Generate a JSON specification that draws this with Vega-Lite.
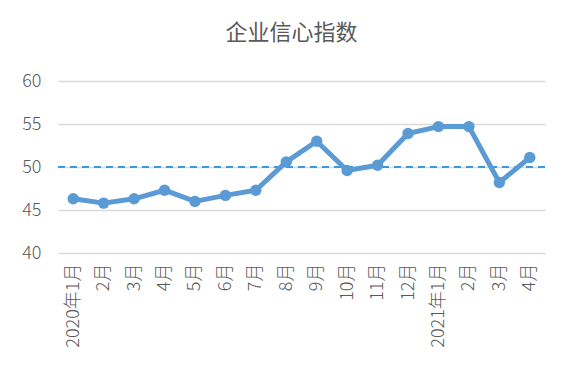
{
  "$schema": "https://vega.github.io/schema/vega-lite/v6.json",
  "width": 487,
  "height": 172,
  "padding": {"left": 21, "top": 22, "right": 31, "bottom": 10},
  "background": "white",
  "title": {
    "text": "企业信心指数",
    "font": "Noto Sans CJK SC",
    "fontSize": 22,
    "fontWeight": "normal",
    "color": "#595959",
    "anchor": "middle",
    "dx": -10,
    "offset": 27
  },
  "data": {
    "values": [
      {"month": "2020年1月", "value": 46.3},
      {"month": "2020年2月", "value": 45.8},
      {"month": "2020年3月", "value": 46.3},
      {"month": "2020年4月", "value": 47.3},
      {"month": "2020年5月", "value": 46.0},
      {"month": "2020年6月", "value": 46.7},
      {"month": "2020年7月", "value": 47.3},
      {"month": "2020年8月", "value": 50.6},
      {"month": "2020年9月", "value": 53.0},
      {"month": "2020年10月", "value": 49.6},
      {"month": "2020年11月", "value": 50.2},
      {"month": "2020年12月", "value": 53.9},
      {"month": "2021年1月", "value": 54.7},
      {"month": "2021年2月", "value": 54.7},
      {"month": "2021年3月", "value": 48.2},
      {"month": "2021年4月", "value": 51.1}
    ]
  },
  "encoding": {
    "x": {
      "field": "month",
      "type": "ordinal",
      "sort": null,
      "axis": {
        "title": null,
        "labelAngle": -90,
        "labelPadding": 10,
        "ticks": false,
        "domain": false,
        "labelFont": "Noto Sans CJK SC",
        "labelFontSize": 18,
        "labelFontWeight": 300,
        "labelColor": "#595959",
        "labelExpr": "indexof(['2020年1月','2021年1月'], datum.value) >= 0 ? datum.value : substring(datum.value, 5)"
      }
    },
    "y": {
      "field": "value",
      "type": "quantitative",
      "scale": {"domain": [40, 60], "nice": false, "zero": false},
      "axis": {
        "title": null,
        "values": [40, 45, 50, 55, 60],
        "ticks": false,
        "domain": false,
        "labelPadding": 17,
        "labelFont": "Noto Sans CJK SC",
        "labelFontSize": 18,
        "labelFontWeight": 300,
        "labelColor": "#595959",
        "gridColor": "#d9d9d9",
        "gridWidth": 1.3
      }
    }
  },
  "layer": [
    {
      "mark": {"type": "rule", "color": "#3a9ad9", "strokeWidth": 2, "strokeDash": [7, 5]},
      "encoding": {"y": {"datum": 50}, "x": null}
    },
    {
      "mark": {"type": "line", "color": "#5b9bd5", "strokeWidth": 5, "strokeJoin": "round"}
    },
    {
      "mark": {"type": "point", "filled": true, "color": "#5b9bd5", "size": 130, "opacity": 1}
    }
  ],
  "config": {
    "view": {"stroke": null}
  }
}
